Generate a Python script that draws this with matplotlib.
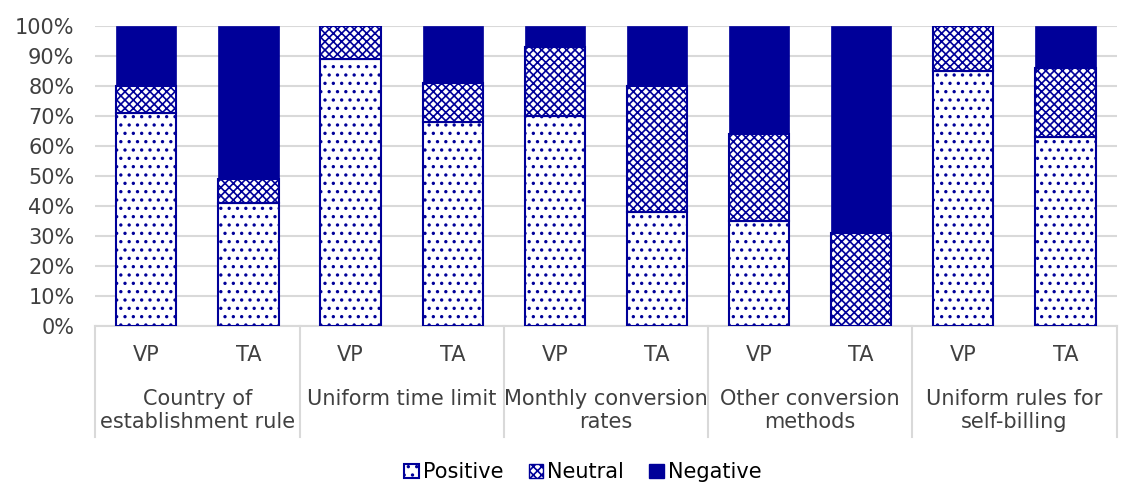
"""Stacked percentage bars: VP vs TA opinions on rule options."""

import matplotlib

matplotlib.use("Agg")
import matplotlib.pyplot as plt
from matplotlib.patches import Patch
from matplotlib.ticker import PercentFormatter
import numpy as np

GROUPS = [
    "Country of\nestablishment rule",
    "Uniform time limit",
    "Monthly conversion\nrates",
    "Other conversion\nmethods",
    "Uniform rules for\nself-billing",
]
RESPONDENTS = ["VP", "TA"]

# one value per bar, order: group1 VP, group1 TA, group2 VP, ...
positive = [71, 41, 89, 68, 70, 38, 35, 0, 85, 63]
neutral = [9, 8, 11, 13, 23, 42, 29, 31, 15, 23]
negative = [20, 51, 0, 19, 7, 20, 36, 69, 0, 14]

NAVY = "#000099"
GRID = "#d9d9d9"
TEXT = "#404040"
FS = 15

plt.rcParams["font.family"] = ["DejaVu Sans"]
plt.rcParams["hatch.linewidth"] = 1.2

fig = plt.figure(figsize=(11.21, 4.82), dpi=100)
ax = fig.add_axes([0.085, 0.324, 0.911, 0.622])

x = np.arange(len(positive))
width = 0.59
pos = np.array(positive, dtype=float)
neu = np.array(neutral, dtype=float)
neg = np.array(negative, dtype=float)

ax.bar(x, pos, width, color="white", edgecolor=NAVY, hatch="..", linewidth=1.5, zorder=3)
ax.bar(x, neu, width, bottom=pos, color="white", edgecolor=NAVY, hatch="xxxx",
       linewidth=1.5, zorder=3)
ax.bar(x, neg, width, bottom=pos + neu, color=NAVY, edgecolor=NAVY, linewidth=0.5, zorder=3)

ax.set_xlim(-0.5, len(positive) - 0.5)
ax.set_ylim(0, 100)
ax.set_yticks(np.arange(0, 101, 10))
ax.yaxis.set_major_formatter(PercentFormatter(decimals=0))
ax.tick_params(axis="y", length=0, labelsize=FS, labelcolor=TEXT, pad=15)
ax.set_xticks([])
ax.grid(axis="y", color=GRID, linewidth=1.5, zorder=0)
for side in ["top", "right", "left"]:
    ax.spines[side].set_visible(False)
ax.spines["bottom"].set_color(GRID)
ax.spines["bottom"].set_linewidth(1.5)

# two-level category axis
trans = matplotlib.transforms.blended_transform_factory(ax.transData, ax.transAxes)
for i in range(len(positive)):
    ax.text(i, -0.097, RESPONDENTS[i % 2], transform=trans, ha="center", va="center",
            fontsize=FS, color=TEXT)
for g, label in enumerate(GROUPS):
    center = 2 * g + 0.5
    ax.text(center, -0.21, label, transform=trans, ha="center", va="top",
            fontsize=FS, color=TEXT, linespacing=1.2)
for edge in np.arange(-0.5, len(positive), 2):
    ax.plot([edge, edge], [0, -0.37], transform=trans, color=GRID, linewidth=1.5,
            clip_on=False)

handles = [
    Patch(facecolor="white", edgecolor=NAVY, hatch="..", linewidth=1.5, label="Positive"),
    Patch(facecolor="white", edgecolor=NAVY, hatch="xxxx", linewidth=1.0, label="Neutral"),
    Patch(facecolor=NAVY, edgecolor=NAVY, label="Negative"),
]
fig.legend(handles=handles, loc="center", bbox_to_anchor=(0.52, 0.02), ncol=3,
           frameon=False, fontsize=FS, handlelength=0.7, handleheight=0.7,
           handletextpad=0.2, columnspacing=1.2, borderpad=0)

fig.savefig("out.png", dpi=100)
